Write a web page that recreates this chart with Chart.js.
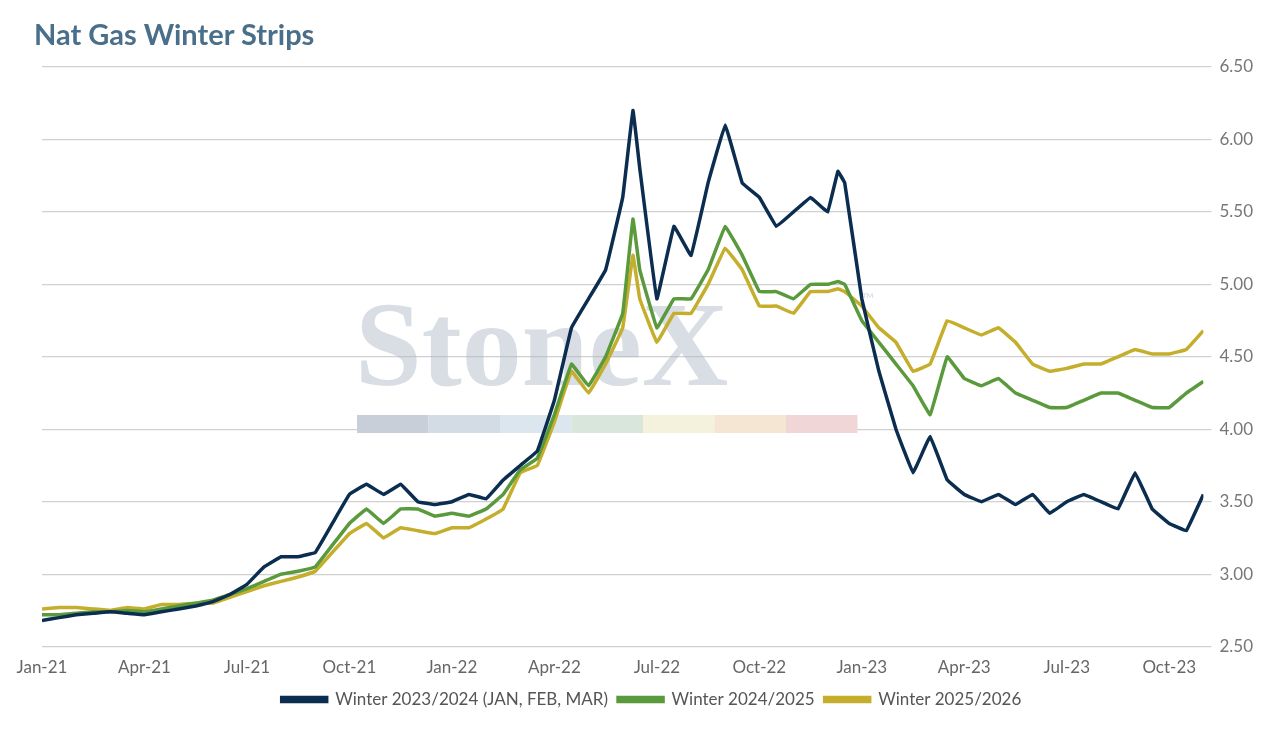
<!DOCTYPE html>
<html><head><meta charset="utf-8">
<script src="https://cdn.jsdelivr.net/npm/chart.js@4.4.0/dist/chart.umd.min.js"></script>
<style>html,body{margin:0;background:#fff;}#wrap{position:relative;width:1271px;height:734px;}
#title{position:absolute;left:34px;top:16px;font:bold 29px Lato, sans-serif;color:#4a6f8a;}</style>
</head><body><div id="wrap"><div id="title">Nat Gas Winter Strips</div><canvas id="c" width="1271" height="734"></canvas></div>
<script>
const months=[0,0.5,1,1.5,2,2.5,3,3.5,4,4.5,5,5.5,6,6.5,
7,7.5,8,8.5,9,9.5,10,10.5,11,11.5,12,12.5,13,13.5,14,14.5,15,15.5,16,16.5,17,
17.3,17.5,
18,18.5,19,19.5,20,20.5,21,21.5,22,22.5,23,
23.3,23.5,
24,24.5,25,25.5,26,26.5,27,27.5,28,28.5,29,29.5,30,30.5,31,31.5,32,32.5,33,33.5,34];
const tickLabels=["Jan-21","Apr-21","Jul-21","Oct-21","Jan-22","Apr-22","Jul-22","Oct-22","Jan-23","Apr-23","Jul-23","Oct-23"];
const winter2324=[2.68,2.70,2.72,2.73,2.74,2.73,2.72,2.74,2.76,2.78,2.81,2.86,2.93,3.05,
3.12,3.12,3.15,3.35,3.55,3.62,3.55,3.62,3.50,3.48,3.50,3.55,3.52,3.65,3.75,3.85,4.2,4.7,4.9,5.1,5.6,
6.2,5.8,
4.9,5.4,5.2,5.7,6.1,5.7,5.6,5.4,5.5,5.6,5.5,
5.78,5.7,
4.9,4.4,4.0,3.7,3.95,3.65,3.55,3.5,3.55,3.48,3.55,3.42,3.5,3.55,3.5,3.45,3.7,3.45,3.35,3.3,3.55];
const winter2425=[2.72,2.72,2.73,2.74,2.74,2.75,2.74,2.76,2.78,2.80,2.82,2.86,2.90,2.95,
3.0,3.02,3.05,3.2,3.35,3.45,3.35,3.45,3.45,3.40,3.42,3.40,3.45,3.55,3.72,3.80,4.1,4.45,4.3,4.5,4.8,
5.45,5.1,
4.7,4.9,4.9,5.1,5.4,5.2,4.95,4.95,4.9,5.0,5.0,
5.02,5.0,
4.75,4.6,4.45,4.3,4.1,4.5,4.35,4.3,4.35,4.25,4.2,4.15,4.15,4.2,4.25,4.25,4.2,4.15,4.15,4.25,4.33];
const winter2526=[2.76,2.77,2.77,2.76,2.75,2.77,2.76,2.79,2.79,2.80,2.80,2.84,2.88,2.92,
2.95,2.98,3.02,3.15,3.28,3.35,3.25,3.32,3.30,3.28,3.32,3.32,3.38,3.45,3.70,3.75,4.05,4.40,4.25,4.45,4.7,
5.2,4.9,
4.6,4.8,4.8,5.0,5.25,5.1,4.85,4.85,4.8,4.95,4.95,
4.97,4.95,
4.85,4.7,4.6,4.4,4.45,4.75,4.7,4.65,4.7,4.6,4.45,4.4,4.42,4.45,4.45,4.5,4.55,4.52,4.52,4.55,4.68];
const pts=a=>a.map((v,i)=>({x:months[i],y:v}));
const watermark={id:'wm',beforeDatasetsDraw(ch){const c=ch.ctx;c.save();
 c.font='bold 120px "Liberation Serif", serif';c.fillStyle='rgba(170,180,195,0.45)';c.textBaseline='alphabetic';
 c.fillText('StoneX',355,385);c.font='16px Lato';c.fillText('™',862,305);
 const cols=['#c9cfd8','#d3dbe4','#dbe6ee','#d8e6dc','#f4f1dc','#f4e6d2','#f0d6d6'];
 cols.forEach((k,i)=>{c.fillStyle=k;c.fillRect(357+i*71.5,415,71.5,18);});c.restore();}};
new Chart(document.getElementById('c'),{type:'line',
 data:{datasets:[
  {label:'Winter 2023/2024 (JAN, FEB, MAR)',data:pts(winter2324),borderColor:'#0b2d4f',backgroundColor:'#0b2d4f'},
  {label:'Winter 2024/2025',data:pts(winter2425),borderColor:'#5a9a3c',backgroundColor:'#5a9a3c'},
  {label:'Winter 2025/2026',data:pts(winter2526),borderColor:'#c4ae2c',backgroundColor:'#c4ae2c'}]},
 options:{responsive:false,animation:false,layout:{padding:{top:67,left:42,right:10,bottom:16}},
  elements:{point:{radius:0},line:{borderWidth:3.5,tension:0.05}},
  plugins:{title:{display:false},tooltip:{enabled:false},
   legend:{position:'bottom',labels:{font:{family:'Lato',size:17},color:'#555',boxWidth:45,boxHeight:4,padding:10}}},
  scales:{
   x:{type:'linear',min:0,max:34,grid:{display:false},border:{display:false},
      ticks:{stepSize:3,color:'#666',font:{family:'Lato',size:17},callback:v=>tickLabels[v/3]}},
   y:{position:'right',min:2.5,max:6.5,grid:{color:'#d0d0d0',lineWidth:1.2},border:{display:false},
      ticks:{stepSize:0.5,color:'#777',font:{family:'Lato',size:17},callback:v=>v.toFixed(2),padding:8}}}},
 plugins:[watermark]});
</script></body></html>
